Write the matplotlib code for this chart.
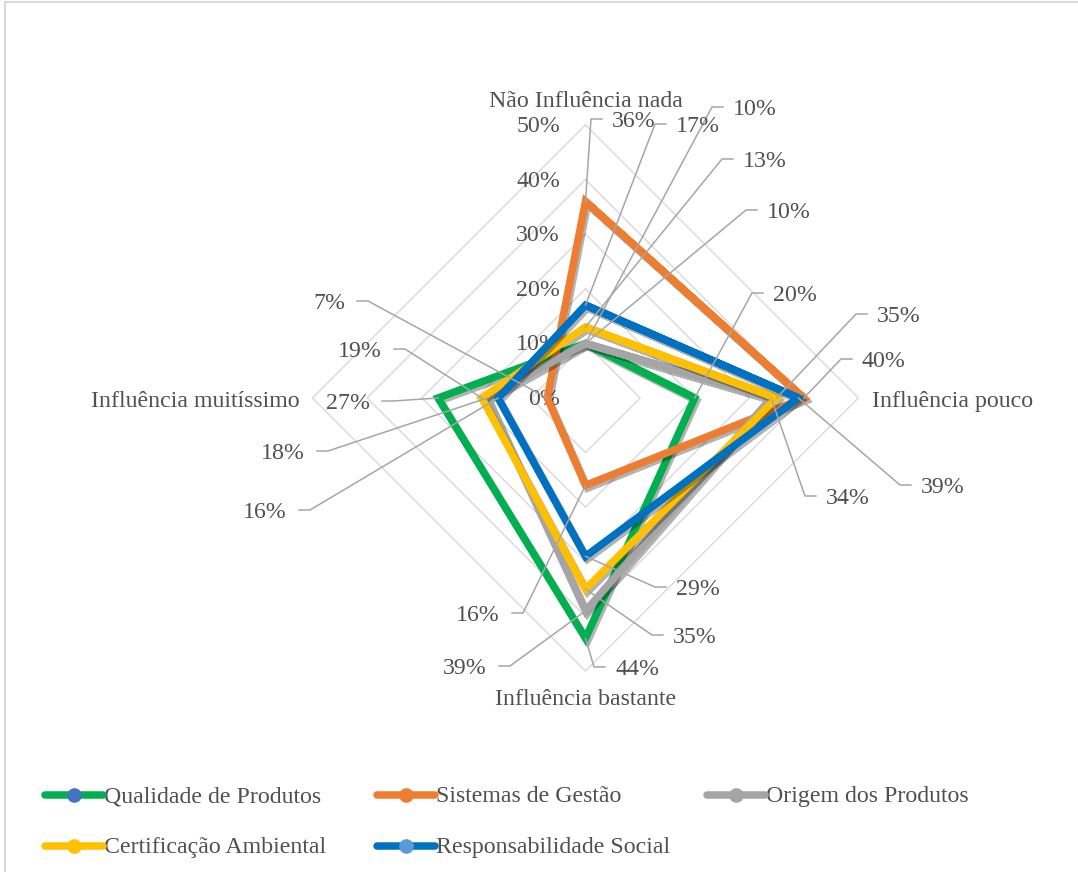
import numpy as np
import matplotlib
matplotlib.use("Agg")
import matplotlib.pyplot as plt
import matplotlib.patheffects as pe
from matplotlib.lines import Line2D

# ---------------- data ----------------
categories = ["Não Influência nada", "Influência pouco", "Influência bastante", "Influência muitíssimo"]
series_names = ["Qualidade de Produtos", "Sistemas de Gestão", "Origem dos Produtos",
                "Certificação Ambiental", "Responsabilidade Social"]
qualidade = [10, 20, 44, 27]
sistemas = [36, 40, 16, 7]
origem = [10, 34, 39, 18]
certificacao = [13, 35, 35, 19]
responsabilidade = [17, 39, 29, 16]
tick_values = [0, 10, 20, 30, 40, 50]

series_values = [qualidade, sistemas, origem, certificacao, responsabilidade]
line_colors = ["#00B050", "#ED7D31", "#A5A5A5", "#FFC000", "#0070C0"]
marker_colors = ["#4472C4", "#ED7D31", "#A5A5A5", "#FFC000", "#5B9BD5"]

# ---------------- layout ----------------
W, H = 1078, 872
CX, CY, S = 585.5, 398.0, 5.46   # chart centre (px) and px per percent
TXT = "#505050"
GRID = "#D9D9D9"
FONT = "Liberation Serif"
FS = 17.2
BASE = 7  # px from visual centre to baseline

# data label anchors (pixel coords of the text edge next to the leader, text centre y, side)
# side 'R' : text to the right of the leader ; 'L' : text to the left
label_layout = [
    # top, right, bottom, left
    [(733, 108, 'R'), (773, 294, 'R'), (615, 668, 'R'), (370, 402, 'L')],   # Qualidade
    [(612, 120, 'R'), (862, 360, 'R'), (500, 614, 'L'), (345, 302, 'L')],   # Sistemas
    [(767, 211, 'R'), (826, 497, 'R'), (487, 667, 'L'), (305, 452, 'L')],   # Origem
    [(743, 160, 'R'), (877, 315, 'R'), (673, 636, 'R'), (382, 350, 'L')],   # Certificação
    [(676, 125, 'R'), (921, 486, 'R'), (676, 588, 'R'), (287, 511, 'L')],   # Responsabilidade
]

plt.rcParams['font.family'] = [FONT, 'DejaVu Sans']

fig = plt.figure(figsize=(W / 100, H / 100), dpi=100)
ax = fig.add_axes([0, 0, 1, 1])
ax.set_xlim((0 - CX) / S, (W - CX) / S)
ax.set_ylim((CY - H) / S, (CY - 0) / S)
ax.axis('off')


def P(x, y):
    """pixel -> data"""
    return (x - CX) / S, (CY - y) / S


angles = np.deg2rad([90, 0, -90, 180])


def polar(v, k):
    return v * np.cos(angles[k]), v * np.sin(angles[k])


# grid diamonds
for t in tick_values[1:]:
    xs = [polar(t, k)[0] for k in range(4)] + [polar(t, 0)[0]]
    ys = [polar(t, k)[1] for k in range(4)] + [polar(t, 0)[1]]
    ax.plot(xs, ys, color=GRID, lw=1.0, zorder=1)

# tick labels
for t in tick_values:
    x, y = P(560, CY - t * S + BASE)
    ax.text(x, y, f"{t}%", ha='right', va='baseline', fontsize=FS, color=TXT, zorder=2)

# category labels
cat_pos = [(CX, 107, 'center'), (872, 407, 'left'), (CX, 705, 'center'), (300, 407, 'right')]
for name, (px_, py_, ha) in zip(categories, cat_pos):
    x, y = P(px_, py_)
    ax.text(x, y, name, ha=ha, va='baseline', fontsize=FS, color=TXT)

# series polygons
for vals, col in zip(series_values, line_colors):
    pts = [polar(v, k) for k, v in enumerate(vals)]
    pts = pts + pts[:2]
    xs = [p[0] for p in pts]
    ys = [p[1] for p in pts]
    ax.plot(xs, ys, color=col, lw=5.4, solid_joinstyle='miter', solid_capstyle='butt', zorder=5,
            path_effects=[pe.SimpleLineShadow(offset=(1.5, -2), shadow_color='black', alpha=0.3),
                          pe.Normal()])

# data labels with leader lines
GAP, HLEN = 10, 11
for vals, lays in zip(series_values, label_layout):
    for k, (v, (tx, ty, side)) in enumerate(zip(vals, lays)):
        px0, py0 = polar(v, k)
        ly = ty - 1
        if side == 'R':
            e2 = tx - GAP
            e1 = e2 - HLEN
            ha = 'left'
        else:
            e2 = tx + GAP + 2
            e1 = e2 + HLEN
            ha = 'right'
        a = P(e1, ly)
        b = P(e2, ly)
        ax.plot([px0, a[0], b[0]], [py0, a[1], b[1]], color="#A6A6A6", lw=1.1, zorder=8)
        x, y = P(tx, ty + BASE)
        ax.text(x, y, f"{v}%", ha=ha, va='baseline', fontsize=FS, color=TXT, zorder=9)

# legend (drawn in pixel layout)
leg_pos = [(45, 795), (377, 795), (707, 795), (45, 846), (377, 846)]
for name, lc, mc, (lx, ly) in zip(series_names, line_colors, marker_colors, leg_pos):
    a = P(lx, ly)
    b = P(lx + 58, ly)
    m = P(lx + 29, ly)
    ax.plot([a[0], b[0]], [a[1], b[1]], color=lc, lw=5.4, solid_capstyle='round', zorder=5)
    ax.plot([m[0]], [m[1]], marker='o', ms=9.5, color=mc, mec=mc, zorder=6)
    t = P(lx + 59, ly + BASE)
    ax.text(t[0], t[1], name, ha='left', va='baseline', fontsize=FS, color=TXT)

# chart border (top and left visible)
fig.add_artist(Line2D([5 / W, 1], [1 - 2 / H, 1 - 2 / H], transform=fig.transFigure, color=GRID, lw=1.5))
fig.add_artist(Line2D([5 / W, 5 / W], [0, 1 - 2 / H], transform=fig.transFigure, color=GRID, lw=1.5))

fig.savefig("out.png", dpi=100, facecolor='white')
